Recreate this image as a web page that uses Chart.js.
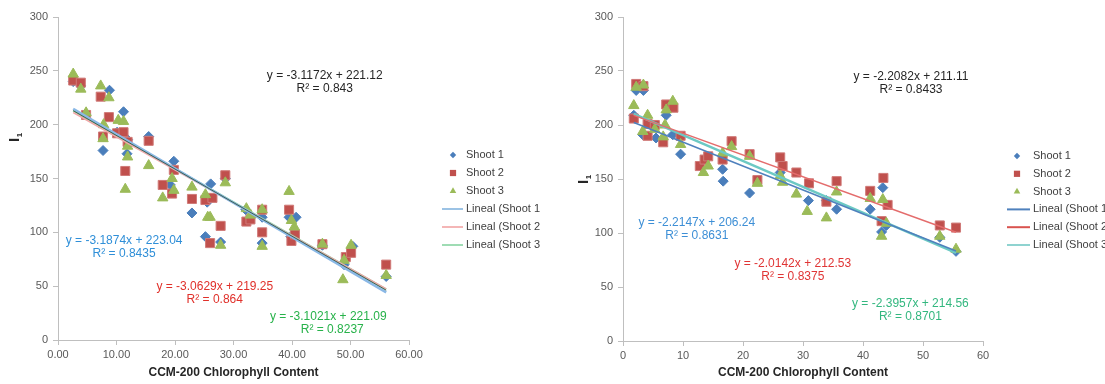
<!DOCTYPE html>
<html>
<head>
<meta charset="utf-8">
<title>I1 vs CCM-200</title>
<script src="https://cdn.jsdelivr.net/npm/chart.js"></script>
<style>
  html, body { margin: 0; padding: 0; background: #fff; }
  #wrap { position: relative; width: 1105px; height: 384px; overflow: hidden; }
  #chartA { position: absolute; left: 0; top: 0; }
  #chartB { position: absolute; left: 555px; top: 0; }
</style>
</head>
<body>
<div id="wrap">
  <canvas id="chartA" width="540" height="384"></canvas>
  <canvas id="chartB" width="550" height="384"></canvas>
</div>
<script>
// ==== Panel izquierdo ====
const leftS1X = [2.6, 3.9, 4.8, 7.7, 8.8, 10.1, 11.2, 11.8, 11.9, 15.5, 19.2, 19.8, 22.9, 25.2, 25.5, 26.1, 27.8, 28.6, 32.1, 34.9, 34.9, 39.5, 39.8, 40.7, 45.2, 48.9, 50.4, 56.1];
const leftS1Y = [240, 236, 209, 176, 232, 193, 212, 173, 186, 189, 144, 166, 118, 96, 128, 145, 91, 150, 121, 114, 90, 114, 96, 114, 88, 70, 87, 59];
const leftS2X = [2.6, 3.9, 4.8, 7.3, 7.7, 8.7, 10.1, 11.2, 11.5, 11.9, 15.5, 17.9, 19.5, 19.8, 22.9, 25.2, 26.0, 26.4, 27.8, 28.6, 32.2, 32.9, 34.9, 34.9, 39.5, 39.9, 40.5, 45.2, 49.2, 50.1, 56.1];
const leftS2Y = [241, 239, 209, 226, 189, 207, 192, 193, 157, 184, 185, 144, 136, 158, 131, 130, 90, 132, 106, 153, 110, 112, 121, 100, 121, 92, 98, 89, 77, 81, 70];
const leftS3X = [2.6, 3.9, 4.8, 7.3, 7.7, 7.8, 8.7, 10.3, 11.2, 11.5, 11.9, 11.9, 15.5, 17.9, 19.5, 19.8, 22.9, 25.2, 25.6, 26.0, 27.8, 28.6, 32.2, 32.9, 34.9, 34.9, 39.5, 39.9, 40.4, 45.2, 48.7, 48.9, 50.1, 56.1];
const leftS3Y = [247, 233, 211, 236, 187, 200, 225, 204, 203, 140, 180, 170, 162, 132, 150, 139, 142, 135, 114, 114, 88, 146, 122, 116, 121, 87, 138, 111, 105, 89, 56, 74, 88, 60];
// ajustes lineales: Shoot 1, Shoot 2, Shoot 3, total
const leftSlopes = [-3.1874, -3.0629, -3.1021, -3.1172];
const leftIntercepts = [223.04, 219.25, 221.09, 221.12];
const leftR2 = [0.8435, 0.864, 0.8237, 0.843];

// ==== Panel derecho ====
const rightS1X = [1.8, 2.2, 3.3, 3.4, 5.5, 7.2, 8.3, 9.6, 16.6, 16.7, 21.1, 26.2, 30.9, 33.9, 35.6, 41.2, 43.1, 43.3, 43.9, 52.8, 55.5];
const rightS1Y = [209, 232, 191, 232, 188, 209, 191, 173, 159, 148, 137, 156, 130, 130, 122, 122, 101, 142, 107, 96, 83];
const rightS2X = [1.8, 2.2, 3.4, 4.1, 4.1, 5.3, 6.7, 7.2, 8.4, 9.6, 12.8, 13.6, 14.2, 16.6, 18.1, 21.1, 22.4, 26.2, 26.6, 28.9, 31.0, 33.9, 35.6, 41.2, 43.1, 43.4, 44.1, 52.8, 55.5];
const rightS2Y = [206, 238, 236, 201, 190, 200, 184, 219, 216, 190, 162, 168, 171, 168, 185, 173, 149, 170, 162, 156, 146, 129, 148, 139, 111, 151, 126, 107, 105];
const rightS3X = [1.8, 2.2, 3.3, 3.4, 4.1, 5.3, 6.7, 7.0, 7.2, 8.3, 9.6, 13.4, 14.2, 16.6, 18.1, 21.1, 22.4, 26.2, 26.6, 28.9, 30.7, 33.9, 35.6, 41.2, 43.1, 43.3, 43.9, 52.8, 55.5];
const rightS3Y = [218, 235, 194, 237, 209, 196, 189, 200, 214, 222, 182, 156, 162, 174, 180, 171, 146, 153, 147, 136, 120, 114, 138, 132, 97, 131, 109, 97, 85];
const rightSlopes = [-2.2147, -2.0142, -2.3957, -2.2082];
const rightIntercepts = [206.24, 212.53, 214.56, 211.11];
const rightR2 = [0.8631, 0.8375, 0.8701, 0.8433];

const seriesNames = ["Shoot 1", "Shoot 2", "Shoot 3"];
const xTicksMax = 60;
const yTicksMax = 300;

const FONT = '"Liberation Sans", Arial, sans-serif';

function toPoints(xs, ys) {
    return xs.map((x, i) => ({ x: x, y: ys[i] }));
}

// recta de tendencia entre el x mínimo y máximo de la serie
function fitLine(xs, slope, intercept) {
    const x0 = Math.min(...xs), x1 = Math.max(...xs);
    return [{ x: x0, y: slope * x0 + intercept }, { x: x1, y: slope * x1 + intercept }];
}

function eqText(slope, intercept) {
    return `y = ${slope}x + ${intercept}`;
}

// ecuaciones y R² en coordenadas de datos
const equationLabels = {
    id: "equationLabels",
    afterDatasetsDraw(chart, args, opts) {
        const ctx = chart.ctx, xs = chart.scales.x, ys = chart.scales.y;
        ctx.save();
        ctx.font = `12px ${FONT}`;
        ctx.textAlign = "center";
        ctx.textBaseline = "middle";
        for (const it of opts.items) {
            const px = xs.getPixelForValue(it.at[0]);
            const py = ys.getPixelForValue(it.at[1]);
            ctx.fillStyle = it.color;
            ctx.fillText(it.eq, px, py);
            ctx.fillText(`R² = ${it.r2}`, px + (it.dx || 0), py + 13);
        }
        ctx.restore();
    }
};

// leyenda a la derecha, estilo Excel
const sideLegend = {
    id: "sideLegend",
    afterDraw(chart, args, opts) {
        const ctx = chart.ctx;
        ctx.save();
        ctx.font = `11px ${FONT}`;
        ctx.textAlign = "left";
        ctx.textBaseline = "middle";
        const items = chart.data.datasets.filter(d => d.legendText);
        items.forEach((d, i) => {
            const y = opts.top + i * opts.rowGap;
            if (d.showLine) {
                ctx.strokeStyle = d.legendColor || d.borderColor;
                ctx.lineWidth = 2;
                ctx.beginPath();
                ctx.moveTo(opts.lineX0, y);
                ctx.lineTo(opts.lineX1, y);
                ctx.stroke();
            } else {
                ctx.fillStyle = d.backgroundColor;
                ctx.strokeStyle = d.backgroundColor;
                if (window.Chart && Chart.helpers && Chart.helpers.drawPoint) {
                    Chart.helpers.drawPoint(ctx, { pointStyle: d.pointStyle, radius: d.legendRadius, borderWidth: 0, rotation: 0 }, opts.markX, y);
                } else {
                    ctx.fillRect(opts.markX - 3, y - 3, 6, 6);
                }
            }
            ctx.fillStyle = "#404040";
            ctx.fillText(d.legendText, opts.textX, y);
        });
        ctx.restore();
    }
};

// título del eje Y: "I" con subíndice 1, girado
const yTitle = {
    id: "yTitle",
    afterDraw(chart, args, opts) {
        const ctx = chart.ctx;
        ctx.save();
        ctx.translate(opts.x, opts.y);
        ctx.rotate(-Math.PI / 2);
        ctx.fillStyle = "#262626";
        ctx.textAlign = "center";
        ctx.textBaseline = "middle";
        ctx.font = `bold 15px ${FONT}`;
        ctx.fillText("I", -2, 0);
        ctx.font = `bold 8px ${FONT}`;
        ctx.fillText("1", 3, 5);
        ctx.restore();
    }
};

function buildPanel(canvasId, p) {
    const ds = [];
    const sx = [p.s1x, p.s2x, p.s3x], sy = [p.s1y, p.s2y, p.s3y];
    const pointStyles = ["rectRot", "rect", "triangle"];
    const pointRadius = [5, 6.4, 6];
    const legendRadius = [3.2, 4.4, 3.8];
    const pointColors = ["#4a7ebb", "#c0504d", "#9bbb59"];
    const pointBorders = ["#4a7ebb", "#d07a78", "#9bbb59"];

    for (let i = 0; i < 3; i++) {
        ds.push({
            label: seriesNames[i],
            legendText: seriesNames[i],
            data: toPoints(sx[i], sy[i]),
            pointStyle: pointStyles[i],
            pointRadius: pointRadius[i],
            legendRadius: legendRadius[i],
            backgroundColor: pointColors[i],
            borderColor: pointBorders[i],
            borderWidth: 1,
            showLine: false,
            order: 3 - i
        });
    }
    for (let i = 0; i < 3; i++) {
        ds.push({
            type: "line",
            label: `Lineal (${seriesNames[i]})`,
            legendText: `Lineal (${seriesNames[i]})`,
            data: fitLine(sx[i], p.slopes[i], p.intercepts[i]),
            borderColor: p.lineColors[i],
            legendColor: p.legendColors[i],
            borderWidth: p.lineWidths[i],
            pointRadius: 0,
            showLine: true,
            fill: false,
            order: 0
        });
    }
    if (p.showOverall) {
        const allX = sx[0].concat(sx[1], sx[2]);
        ds.push({
            type: "line",
            label: "total",
            data: fitLine(allX, p.slopes[3], p.intercepts[3]),
            borderColor: "#3f6150",
            borderWidth: 1,
            pointRadius: 0,
            showLine: true,
            fill: false,
            order: -1
        });
    }

    const labelItems = p.labelPos.map((pos, i) => ({
        at: pos,
        eq: eqText(p.slopes[i], p.intercepts[i]),
        r2: p.r2[i],
        color: p.labelColors[i],
        dx: p.labelDx[i]
    }));

    new Chart(document.getElementById(canvasId), {
        type: "scatter",
        data: { datasets: ds },
        plugins: [equationLabels, sideLegend, yTitle],
        options: {
            responsive: false,
            animation: false,
            layout: { padding: { left: 0, right: p.padRight, top: 17, bottom: 0 } },
            plugins: {
                legend: { display: false },
                tooltip: { enabled: false },
                equationLabels: { items: labelItems },
                sideLegend: p.legend,
                yTitle: p.yTitle
            },
            scales: {
                x: {
                    type: "linear",
                    min: 0,
                    max: xTicksMax,
                    afterFit: s => { s.height = p.xHeight; },
                    ticks: {
                        stepSize: 10,
                        color: "#595959",
                        font: { family: FONT, size: 11 },
                        padding: 3,
                        callback: v => p.decimals ? Number(v).toFixed(2) : v
                    },
                    grid: { drawOnChartArea: false, drawTicks: true, tickLength: 5, color: "#bfbfbf" },
                    border: { display: true, color: "#bfbfbf" },
                    title: {
                        display: true,
                        text: "CCM-200 Chlorophyll Content",
                        color: "#262626",
                        font: { family: FONT, size: 12, weight: "bold" },
                        padding: { top: 2, bottom: 4 }
                    }
                },
                y: {
                    type: "linear",
                    min: 0,
                    max: yTicksMax,
                    afterFit: s => { s.width = p.yWidth; },
                    ticks: {
                        stepSize: 50,
                        color: "#595959",
                        font: { family: FONT, size: 11 },
                        padding: 5
                    },
                    grid: { drawOnChartArea: false, drawTicks: true, tickLength: 5, color: "#bfbfbf" },
                    border: { display: true, color: "#bfbfbf" }
                }
            }
        }
    });
}

buildPanel("chartA", {
    s1x: leftS1X, s1y: leftS1Y, s2x: leftS2X, s2y: leftS2Y, s3x: leftS3X, s3y: leftS3Y,
    slopes: leftSlopes, intercepts: leftIntercepts, r2: leftR2,
    decimals: true,
    showOverall: true,
    lineColors: ["#8ab8e6", "#f0a8a8", "#86d6a4"],
    legendColors: ["#9cc3e5", "#f4b6b6", "#9fdcb4"],
    lineWidths: [2.5, 1.5, 2],
    labelPos: [[11.3, 92], [26.8, 49.2], [46.2, 21.4], [45.6, 245.2]],
    labelDx: [0, 0, 4, 0],
    labelColors: ["#2f8fd8", "#e0302a", "#27b24a", "#262626"],
    padRight: 131, yWidth: 58, xHeight: 44,
    legend: { top: 155, rowGap: 18, markX: 453, textX: 466, lineX0: 442, lineX1: 463 },
    yTitle: { x: 15, y: 138 }
});

buildPanel("chartB", {
    s1x: rightS1X, s1y: rightS1Y, s2x: rightS2X, s2y: rightS2Y, s3x: rightS3X, s3y: rightS3Y,
    slopes: rightSlopes, intercepts: rightIntercepts, r2: rightR2,
    decimals: false,
    showOverall: false,
    lineColors: ["#4f81bd", "#e46c6c", "#6cc9c4"],
    legendColors: ["#4f81bd", "#d9534f", "#8fd3d0"],
    lineWidths: [1.5, 1.5, 2.5],
    labelPos: [[12.3, 110], [28.3, 72], [47.9, 34.3], [48, 245]],
    labelDx: [0, 0, 0, 0],
    labelColors: ["#3d8fd6", "#e03535", "#33b77f", "#262626"],
    padRight: 122, yWidth: 68, xHeight: 43,
    legend: { top: 156, rowGap: 17.8, markX: 462, textX: 478, lineX0: 452, lineX1: 475 },
    yTitle: { x: 29, y: 180 }
});
</script>
</body>
</html>
